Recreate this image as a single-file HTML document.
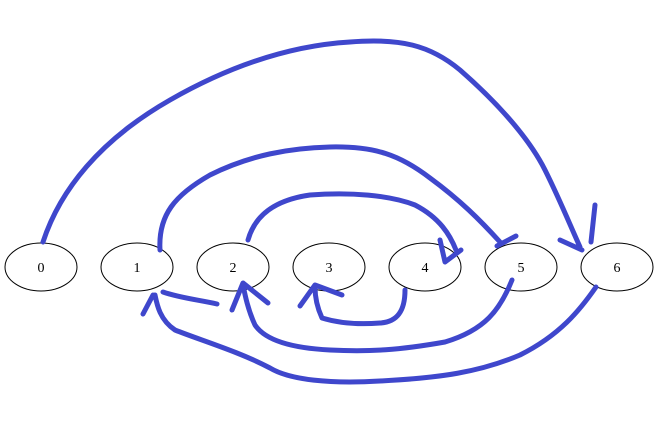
<!DOCTYPE html>
<html>
<head>
<meta charset="utf-8">
<style>
html,body{margin:0;padding:0;background:#fff;width:659px;height:434px;overflow:hidden}
svg{display:block}
text{font-family:"Liberation Serif",serif;font-size:14px}
</style>
</head>
<body>
<svg id="g" width="659" height="434" viewBox="0 0 659 434"></svg>
<script>
const nodeLabels = ["0","1","2","3","4","5","6"];
const nodeY = 267;
const edgePaths = [
  {name:"edge-0-6", d:"M43,242 C60,190 100,140 170,100 C240,60 300,45 350,42 C400,38 430,45 460,70 C500,105 530,140 545,170 C560,200 570,225 580,247", head:"M560,240 L582,250 M595,205 L591,242"},
  {name:"edge-1-5", d:"M160,250 C158,215 175,195 210,175 C250,155 290,148 330,147 C375,146 400,155 430,178 C460,200 480,220 500,242", head:"M497,246 L516,236"},
  {name:"edge-2-4", d:"M248,240 C255,215 275,200 310,195 C350,192 390,195 415,205 C440,218 450,235 456,250", head:"M440,240 L445,262 L461,250"},
  {name:"edge-4-3", d:"M405,290 C405,310 398,322 380,323 C355,325 335,322 322,318 C316,305 315,295 315,287", head:"M300,306 L315,285 L342,295"},
  {name:"edge-5-2", d:"M512,280 C500,310 485,330 445,342 C400,350 370,352 330,350 C290,348 265,340 255,325 C248,310 245,295 243,285", head:"M232,310 L243,283 L268,303"},
  {name:"edge-6-1", d:"M596,287 C580,310 560,335 520,355 C480,372 440,378 380,381 C330,384 290,380 270,368 C240,352 200,340 175,330 C160,320 157,305 155,295", head:"M143,314 L153,295 M217,304 C200,300 180,298 163,292"}
];
const svg = document.getElementById('g');
const NS = "http://www.w3.org/2000/svg";
nodeLabels.forEach((lab,i)=>{
  const cx = 41 + i*96;
  const el = document.createElementNS(NS,'ellipse');
  el.setAttribute('cx',cx); el.setAttribute('cy',nodeY);
  el.setAttribute('rx',36); el.setAttribute('ry',24);
  el.setAttribute('fill','#fff'); el.setAttribute('stroke','#000'); el.setAttribute('stroke-width','1');
  
  
  svg.appendChild(el);
  const t = document.createElementNS(NS,'text');
  t.setAttribute('x',cx); t.setAttribute('y',nodeY+5);
  t.setAttribute('text-anchor','middle');
  t.textContent = lab;
  
  
  svg.appendChild(t);
});
edgePaths.forEach(e=>{
  const p = document.createElementNS(NS,'path');
  p.setAttribute('d', e.d + ' ' + e.head);
  p.setAttribute('fill','none'); p.setAttribute('stroke','#3f47cc');
  p.setAttribute('stroke-width','5'); p.setAttribute('stroke-linecap','round'); p.setAttribute('stroke-linejoin','round');
  
  
  svg.appendChild(p);
});
</script>
</body>
</html>
